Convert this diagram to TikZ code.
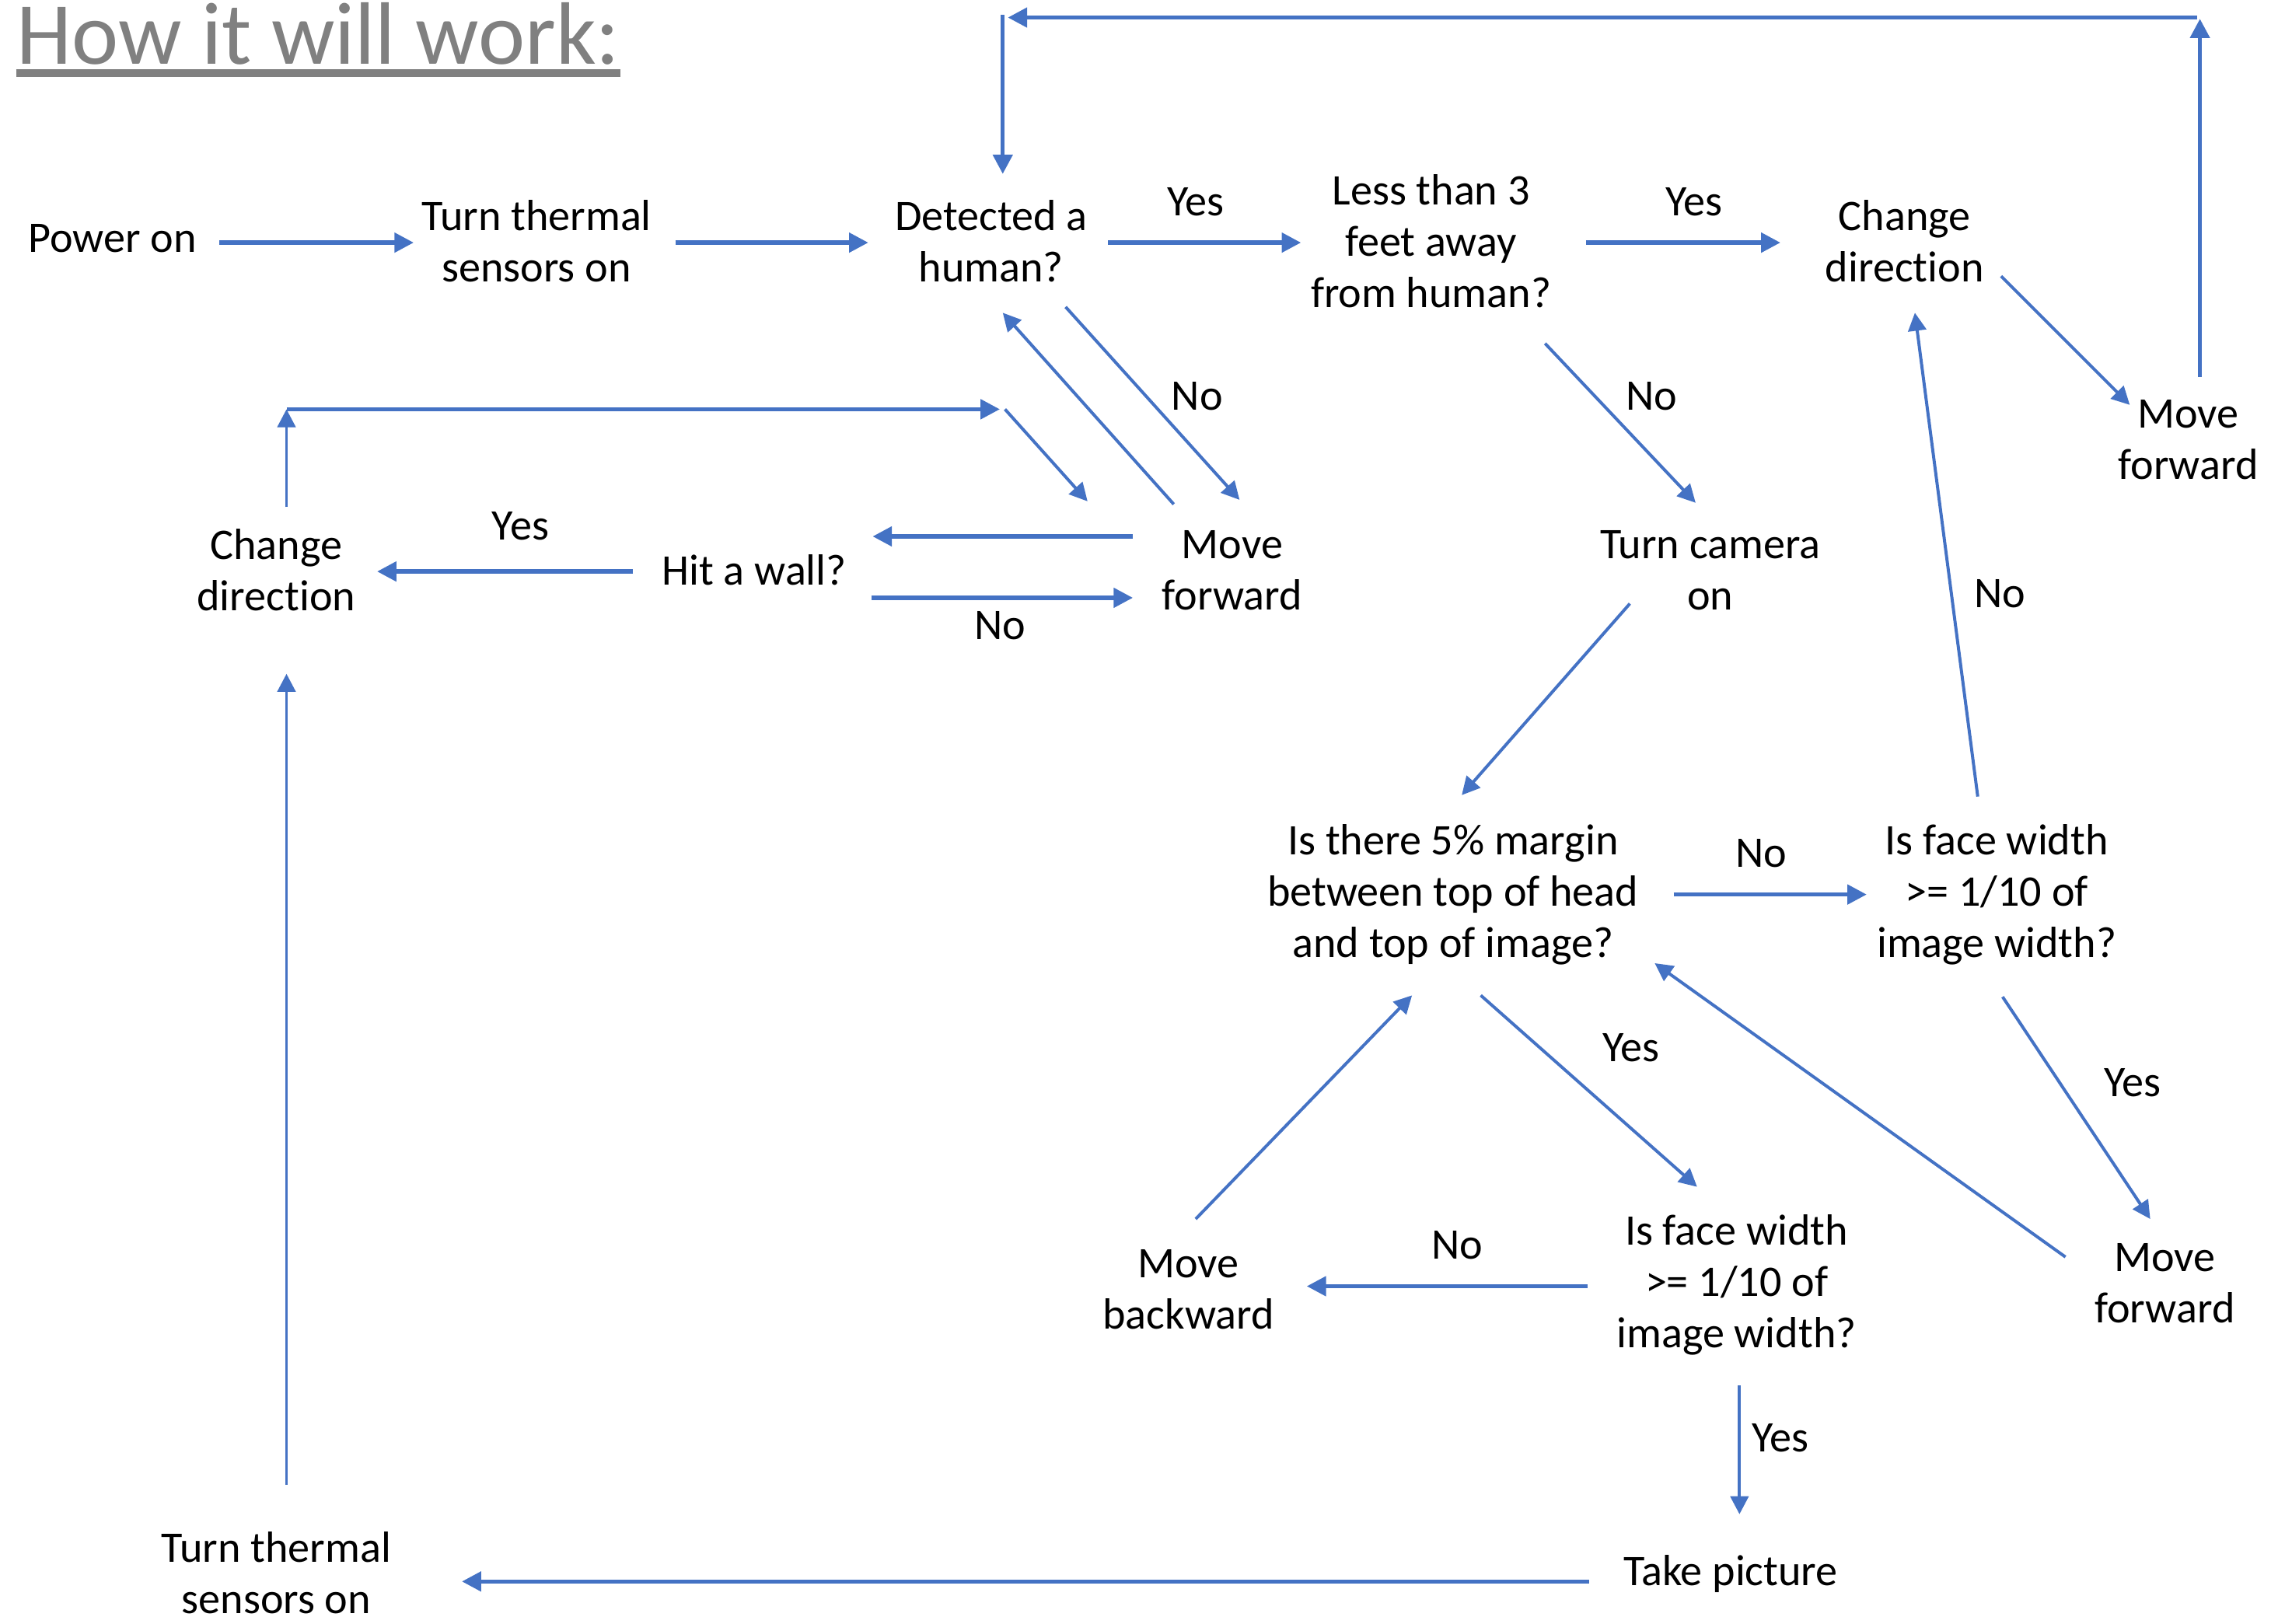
\documentclass[tikz,border=0pt]{standalone}
\usepackage{fontspec}
\setmainfont{Carlito}[Ligatures=NoCommon]
\usetikzlibrary{arrows.meta}
\definecolor{flow}{RGB}{68,114,196}
\definecolor{ttl}{RGB}{128,128,128}
\begin{document}
\begin{tikzpicture}[x=0.02cm,y=-0.02cm,
  box/.style={align=center,font=\fontsize{17}{20}\selectfont,inner sep=0pt},
  lbl/.style={font=\fontsize{17}{20}\selectfont,inner sep=0pt},
  arr/.style={draw=flow,line width=1.6pt,-{Triangle[length=7.5pt,width=7.5pt]}},
  tarr/.style={draw=flow,line width=1.2pt,-{Triangle[length=7pt,width=7pt]}},
  tline/.style={draw=flow,line width=1.6pt}]
\useasboundingbox (0,0) rectangle (1568,1111);

% title
\node[anchor=base west,inner sep=0pt,text=ttl,font=\fontsize{34.5}{40}\selectfont] (title) at (11,44) {How it will work:};
\draw[ttl,line width=3pt] (title.base west) ++(0,6) -- (title.base east |- 0,50);

% nodes
\node[box] (power)  at (77,163)  {Power on};
\node[box] (therm)  at (367,165) {Turn thermal\\sensors on};
\node[box] (detect) at (678,165) {Detected a\\human?};
\node[box] (less)   at (979,165) {Less than 3\\feet away\\from human?};
\node[box] (chgT)   at (1303,165) {Change\\direction};
\node[box] (mfT)    at (1497,301) {Move\\forward};
\node[box] (mfM)    at (843,390) {Move\\forward};
\node[box] (hit)    at (516,390) {Hit a wall?};
\node[box] (chgL)   at (189,390) {Change\\direction};
\node[box] (cam)    at (1170,390) {Turn camera\\on};
\node[box] (there)  at (994,612) {Is there 5\% margin\\between top of head\\and top of image?};
\node[box] (faceR)  at (1366,612) {Is face width\\>= 1/10 of\\image width?};
\node[box] (mback)  at (813,882) {Move\\backward};
\node[box] (faceB)  at (1188,879) {Is face width\\>= 1/10 of\\image width?};
\node[box] (mfB)    at (1481,878) {Move\\forward};
\node[box] (take)   at (1184,1077) {Take picture};
\node[box] (thermB) at (189,1076) {Turn thermal\\sensors on};

% labels
\node[lbl] (l1)  at (818,138)  {Yes};
\node[lbl] (l2)  at (1159,138) {Yes};
\node[lbl] (l3)  at (819,271)  {No};
\node[lbl] (l4)  at (1130,271) {No};
\node[lbl] (l5)  at (356,360)  {Yes};
\node[lbl] (l6)  at (684,428)  {No};
\node[lbl] (l7)  at (1368,406) {No};
\node[lbl] (l8)  at (1205,584) {No};
\node[lbl] (l9)  at (1116,717) {Yes};
\node[lbl] (l10) at (1459,741) {Yes};
\node[lbl] (l11) at (997,852)  {No};
\node[lbl] (l12) at (1218,984) {Yes};

% helper coordinates
\coordinate (topR) at (1505,12);
\coordinate (topL) at (686,12);
\coordinate (cornL) at (196,280);
\coordinate (cornR) at (684,280);

% connectors
\draw[arr] ([shift={(73,3)}]power.center) -- ([shift={(-84,1)}]therm.center);
\draw[arr] ([shift={(95,1)}]therm.center) -- ([shift={(-84,1)}]detect.center);
\draw[arr] ([shift={(80,1)}]detect.center) -- ([shift={(-89,1)}]less.center);
\draw[arr] ([shift={(106,1)}]less.center) -- ([shift={(-85,1)}]chgT.center);
\draw[tarr] ([shift={(66,24)}]chgT.center) -- ([shift={(-40,-24)}]mfT.center);
\draw[arr] ([shift={(8,-43)}]mfT.center) -- ([yshift=-0.5]topR);
\draw[arr] ([xshift=-1]topR) -- ([xshift=2]topL);
\draw[tline,-{Triangle[length=7.5pt,width=7.5pt]}] ([yshift=1]topL) -- ([shift={(8,-46)}]detect.center);

\draw[tarr] ([shift={(51,45)}]detect.center) -- ([shift={(5,-48)}]mfM.center);
\draw[tarr] ([shift={(-40,-45)}]mfM.center) -- ([shift={(8,49)}]detect.center);
\draw[arr] ([shift={(-68,-23)}]mfM.center) -- ([shift={(81,-23)}]hit.center);
\draw[arr] ([shift={(80,19)}]hit.center) -- ([shift={(-68,19)}]mfM.center);
\draw[arr] ([shift={(-83,1)}]hit.center) -- ([shift={(69,1)}]chgL.center);
\draw[tarr] ([shift={(7,-43)}]chgL.center) -- (cornL);
\draw[arr] (cornL) -- (cornR);
\draw[tarr] ([xshift=2]cornR) -- ([shift={(-99,-47)}]mfM.center);

\draw[tarr] ([shift={(78,70)}]less.center) -- ([shift={(-10,-46)}]cam.center);
\draw[tarr] ([shift={(-55,23)}]cam.center) -- ([shift={(6,-68)}]there.center);
\draw[arr] ([shift={(151,0)}]there.center) -- ([shift={(-89,0)}]faceR.center);
\draw[tarr] ([shift={(-13,-67)}]faceR.center) -- ([shift={(7,49)}]chgT.center);
\draw[tarr] ([shift={(4,70)}]faceR.center) -- ([shift={(-10,-44)}]mfB.center);
\draw[tarr] ([shift={(-68,-18)}]mfB.center) -- ([shift={(138,47)}]there.center);
\draw[tarr] ([shift={(19,69)}]there.center) -- ([shift={(-27,-67)}]faceB.center);
\draw[arr] ([shift={(-102,1)}]faceB.center) -- ([shift={(81,-2)}]mback.center);
\draw[tarr] ([shift={(5,-48)}]mback.center) -- ([shift={(-28,69)}]there.center);
\draw[tarr] ([shift={(2,69)}]faceB.center) -- ([shift={(6,-41)}]take.center);
\draw[arr] ([shift={(-97,5)}]take.center) -- ([shift={(127,6)}]thermB.center);
\draw[tarr] ([shift={(7,-60)}]thermB.center) -- ([shift={(7,71)}]chgL.center);
\end{tikzpicture}
\end{document}
